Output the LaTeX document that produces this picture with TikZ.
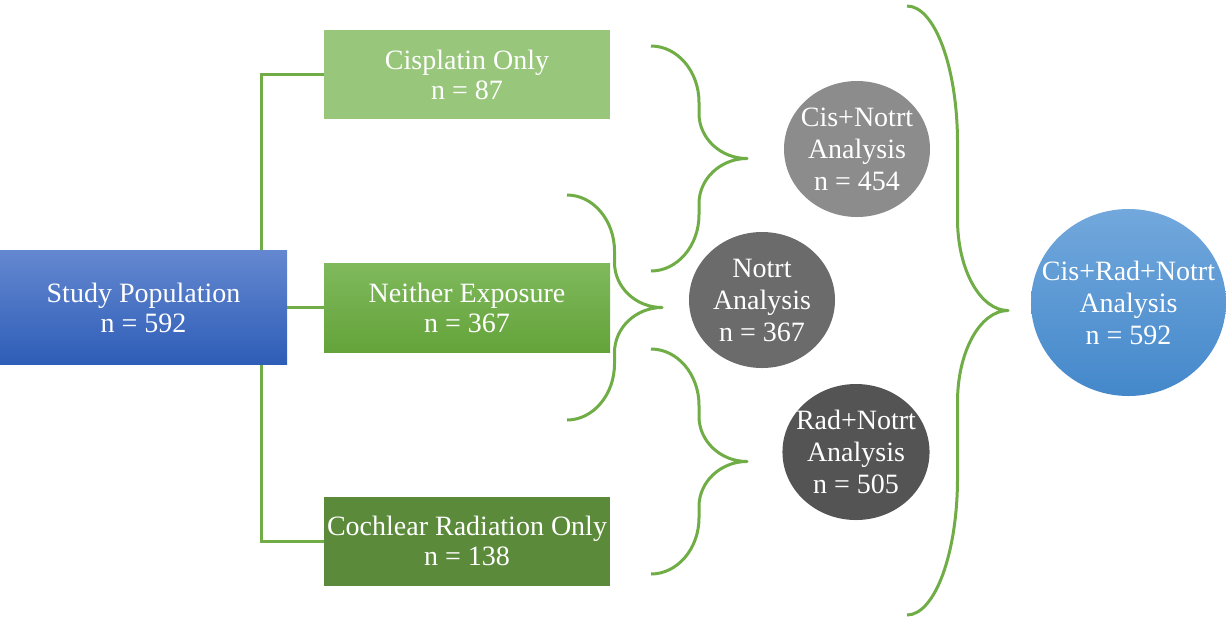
\documentclass[tikz,border=0pt]{standalone}
\usepackage{fontspec}
\setmainfont{Liberation Serif}
\usetikzlibrary{shapes.geometric, backgrounds}
\definecolor{linegreen}{HTML}{70AD47}
\definecolor{cisgreen}{HTML}{98C67A}
\definecolor{neithertop}{HTML}{7FB95C}
\definecolor{neitherbot}{HTML}{64A33A}
\definecolor{cochgreen}{HTML}{5B8A3A}
\definecolor{studytop}{HTML}{6488D0}
\definecolor{studybot}{HTML}{2E5DB7}
\definecolor{alltop}{HTML}{72A8DC}
\definecolor{allbot}{HTML}{4488CB}

\begin{document}
\begin{tikzpicture}[x=0.5pt, y=-0.5pt,
	group/.style={rectangle, minimum width=143pt, minimum height=44.5pt, inner sep=0pt, align=center, text=white, font=\fontsize{14}{15}\selectfont},
	analysis/.style={ellipse, minimum width=73pt, minimum height=68pt, inner xsep=-4pt, inner ysep=0pt, align=center, text=white, font=\fontsize{14}{16}\selectfont},
	tree/.style={draw=linegreen, line width=1.5pt},
	curly/.style={draw=linegreen, line width=1.5pt, line join=round}]
			\path[use as bounding box] (0,0) rectangle (1226,618);
			
			\node[group, minimum width=143.5pt, minimum height=57pt, top color=studytop, bottom color=studybot] (study) at (143.5,307.5) {Study Population\\n = 592};
			\node[group, fill=cisgreen] (cisonly) at (467,74.5) {Cisplatin Only\\n = 87};
			\node[group, top color=neithertop, bottom color=neitherbot] (neither) at (467,307.5) {Neither Exposure\\n = 367};
			\node[group, fill=cochgreen] (cochlear) at (467,541) {Cochlear Radiation Only\\n = 138};
			
			\node[analysis, fill=black!45] (cisnotrt) at (857,149) {Cis+Notrt\\Analysis\\n = 454};
			\node[analysis, fill=black!58] (notrt) at (762,300) {Notrt\\Analysis\\n = 367};
			\node[analysis, fill=black!67] (radnotrt) at (856,452) {Rad+Notrt\\Analysis\\n = 505};
			\node[analysis, minimum width=97.5pt, minimum height=93.5pt, inner xsep=-10pt, top color=alltop, bottom color=allbot] (all) at (1128.5,302.5) {Cis+Rad+Notrt\\Analysis\\n = 592};
			
			\begin{scope}[on background layer]
			\coordinate (trunk) at (261,307.5);
			\draw[tree] (cisonly.west) -| (trunk) |- (cochlear.west);
			\draw[tree] (study.east) -- (neither.west);
			\end{scope}
			
			% braces: end x / tip x / top / bottom / end arc / tip arc
			\foreach \e/\t/\T/\B/\fe/\ft in {651/747/46/271/0.5/0.4, 567/662/195/420/0.5/0.4, 651/747/349/574/0.5/0.4, 907/1008/6/615/0.45/0.3} {
				\pgfmathsetmacro{\m}{(\e+\t)/2}
				\pgfmathsetmacro{\w}{(\t-\e)/2}
				\pgfmathsetmacro{\c}{(\T+\B)/2}
				\pgfmathsetmacro{\ha}{\fe*(\B-\T)/2}
				\pgfmathsetmacro{\hb}{\ft*(\B-\T)/2}
				\draw[curly] (\e,\T) .. controls ({\e+0.55*\w},\T) and (\m,{\T+0.45*\ha}) .. (\m,{\T+\ha})
					-- (\m,{\c-\hb}) .. controls (\m,{\c-0.45*\hb}) and ({\t-0.55*\w},\c) .. (\t,\c)
					.. controls ({\t-0.55*\w},\c) and (\m,{\c+0.45*\hb}) .. (\m,{\c+\hb})
					-- (\m,{\B-\ha}) .. controls (\m,{\B-0.45*\ha}) and ({\e+0.55*\w},\B) .. (\e,\B);
			}
			\end{tikzpicture}
\end{document}
